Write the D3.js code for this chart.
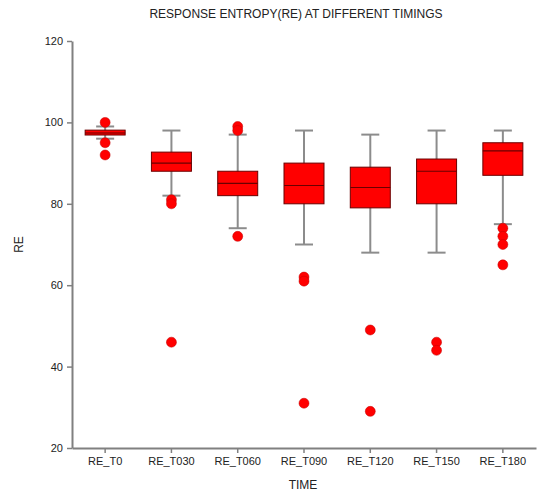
<!DOCTYPE html>
<html>
<head>
<meta charset="utf-8">
<script src="https://cdn.jsdelivr.net/npm/d3@7"></script>
<style>
  body { margin: 0; background: #fff; }
  text { font-family: "Liberation Sans", Arial, sans-serif; }
</style>
</head>
<body>
<div id="chart"></div>
<script>
// box plot summaries
const categories = ["RE_T0", "RE_T030", "RE_T060", "RE_T090", "RE_T120", "RE_T150", "RE_T180"];
const whiskerLow = [96, 82, 74, 70, 68, 68, 75];
const q1 = [96.9, 88, 82, 80, 79, 80, 87];
const medians = [97.4, 90, 85, 84.5, 84, 88, 93];
const q3 = [98.1, 92.7, 88, 90, 89, 91, 95];
const whiskerHigh = [99, 98, 97, 98, 97, 98, 98];
const outliers = [
    [100, 95, 92],
    [81, 80, 46],
    [99, 98, 72],
    [62, 61, 31],
    [49, 29],
    [46, 44],
    [74, 72, 70, 65]
];
const yTicks = [20, 40, 60, 80, 100, 120];

const width = 537, height = 492;
const margin = {top: 41, right: 1, bottom: 44, left: 72};

const svg = d3.select("#chart").append("svg")
    .attr("width", width)
    .attr("height", height);

const x = d3.scaleBand()
    .domain(categories)
    .range([margin.left, width - margin.right])
    .padding(0);

const y = d3.scaleLinear()
    .domain([20, 120])
    .range([height - margin.bottom, margin.top]);

const axisColor = "#808080";
const boxW = 40, capW = 18;

// axes
const yAxis = svg.append("g")
    .attr("transform", `translate(${margin.left},0)`)
    .call(d3.axisLeft(y).tickValues(yTicks).tickSize(5).tickSizeOuter(0).tickPadding(4));

const xAxis = svg.append("g")
    .attr("transform", `translate(0,${height - margin.bottom})`)
    .call(d3.axisBottom(x).tickSize(5).tickSizeOuter(0).tickPadding(4));

[yAxis, xAxis].forEach((g) => {
    g.select(".domain").attr("stroke", axisColor).attr("stroke-width", 2);
    g.selectAll(".tick line").attr("stroke", axisColor).attr("stroke-width", 1.5);
    g.selectAll(".tick text").attr("fill", "#222").attr("font-size", 11);
});

const boxes = svg.append("g")
    .selectAll("g")
    .data(categories)
    .join("g")
    .attr("transform", (d) => `translate(${x(d) + x.bandwidth() / 2},0)`);

// whiskers
boxes.append("line")
    .attr("x1", 0).attr("x2", 0)
    .attr("y1", (d, i) => y(whiskerLow[i]))
    .attr("y2", (d, i) => y(whiskerHigh[i]))
    .attr("stroke", "#8c8c8c")
    .attr("stroke-width", 2);

boxes.selectAll(".cap")
    .data((d, i) => [whiskerLow[i], whiskerHigh[i]])
    .join("line")
    .attr("class", "cap")
    .attr("x1", -capW / 2).attr("x2", capW / 2)
    .attr("y1", (v) => y(v)).attr("y2", (v) => y(v))
    .attr("stroke", "#8c8c8c")
    .attr("stroke-width", 2);

boxes.append("rect")
    .attr("x", -boxW / 2)
    .attr("width", boxW)
    .attr("y", (d, i) => y(q3[i]))
    .attr("height", (d, i) => y(q1[i]) - y(q3[i]))
    .attr("fill", "#ff0000")
    .attr("stroke", "#6a0000")
    .attr("stroke-width", 1);

boxes.append("line")
    .attr("x1", -boxW / 2).attr("x2", boxW / 2)
    .attr("y1", (d, i) => y(medians[i]))
    .attr("y2", (d, i) => y(medians[i]))
    .attr("stroke", "#6a0000")
    .attr("stroke-width", 1.2);

boxes.selectAll(".outlier")
    .data((d, i) => outliers[i])
    .join("circle")
    .attr("class", "outlier")
    .attr("cx", 0)
    .attr("cy", (v) => y(v))
    .attr("r", 5)
    .attr("fill", "#ff0000")
    .attr("stroke", "#c00000")
    .attr("stroke-width", 0.5);

// titles
svg.append("text")
    .attr("x", 296).attr("y", 18)
    .attr("text-anchor", "middle")
    .attr("font-size", 12)
    .attr("fill", "#222")
    .text("RESPONSE ENTROPY(RE) AT DIFFERENT TIMINGS");

svg.append("text")
    .attr("x", 303).attr("y", 489)
    .attr("text-anchor", "middle")
    .attr("font-size", 12)
    .attr("fill", "#222")
    .text("TIME");

svg.append("text")
    .attr("transform", `translate(23,${(margin.top + height - margin.bottom) / 2}) rotate(-90)`)
    .attr("text-anchor", "middle")
    .attr("font-size", 12)
    .attr("fill", "#222")
    .text("RE");
</script>
</body>
</html>
